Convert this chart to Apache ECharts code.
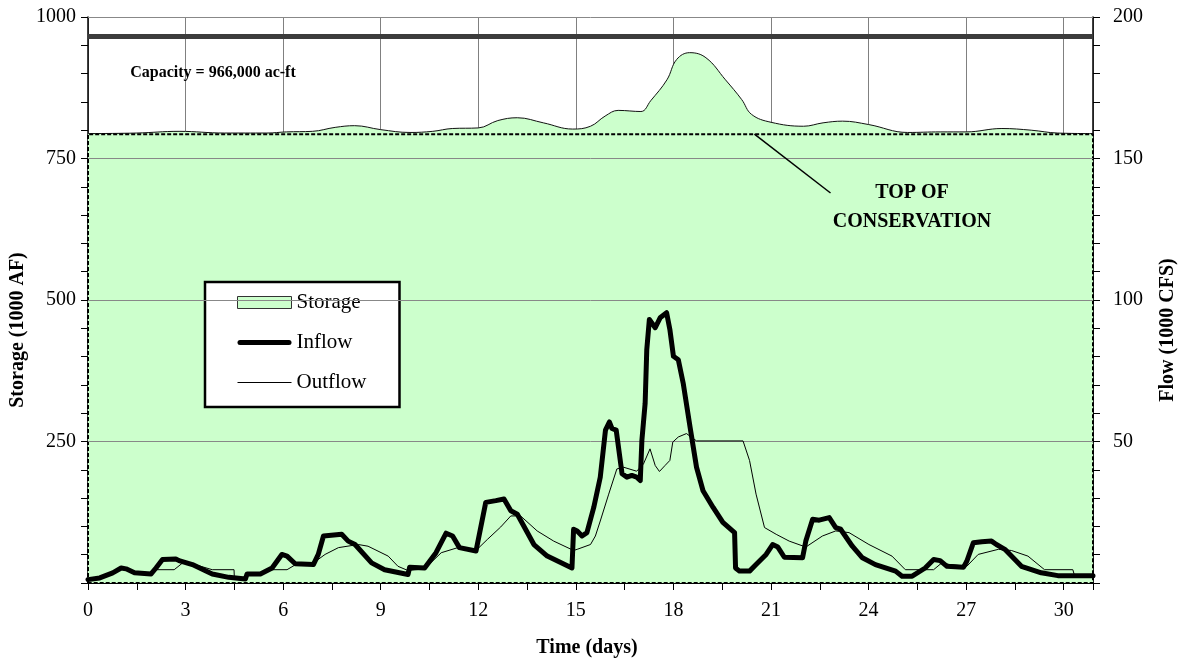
<!DOCTYPE html>
<html>
<head>
<meta charset="utf-8">
<script src="https://cdn.jsdelivr.net/npm/echarts@6/dist/echarts.min.js"></script>
<style>
html,body{margin:0;padding:0;background:#fff;}
#chart{width:1186px;height:666px;}
</style>
</head>
<body>
<div id="chart"></div>
<script>
// ---- data (days, values) ----
const X_MAX = 30.9;
const CAPACITY = 966;            // 1000 AF
const TOP_OF_CONSERVATION = 793; // 1000 AF
const storageTicks = [0, 250, 500, 750, 1000];
const flowTicks = [0, 50, 100, 150, 200];
const dayTicks = [0, 3, 6, 9, 12, 15, 18, 21, 24, 27, 30];

const storage = [
  [0,794],[1.5,795],[2.8,798],[4.2,795],[5.5,795],[6.1,797],[6.9,798],[7.6,805],[8.2,808],
  [9.0,801],[9.9,796],[10.6,798],[11.2,803],[12.0,804],[12.6,817],[13.2,822],[14.0,813],
  [14.9,802],[15.45,807],[15.9,825],[16.3,835],[17.0,833],[17.3,852],[17.8,889],[18.1,925],
  [18.5,937],[19.0,928],[19.6,889],[20.1,854],[20.4,828],[21.0,814],[22.0,807],[22.6,813],
  [23.2,816],[24.0,810],[25.2,796],[26.2,797],[27.0,797],[28.1,803],[29.0,800],[29.8,795],[30.9,794]
];

const inflow = [
  [0,1.2],[0.36,1.8],[0.76,3.6],[1.02,5.3],[1.17,5.0],[1.43,3.6],[1.94,3.2],[2.09,5.3],[2.29,8.3],
  [2.70,8.5],[2.80,7.9],[3.21,6.5],[3.82,3.2],[4.33,2.0],[4.84,1.4],[4.89,3.2],[5.30,3.2],[5.66,5.3],
  [5.96,10.1],[6.12,9.5],[6.37,6.8],[6.93,6.5],[7.08,10.1],[7.24,16.6],[7.80,17.2],[8.0,14.8],
  [8.21,13.6],[8.72,7.1],[9.12,4.7],[9.84,3.0],[9.89,5.6],[10.35,5.3],[10.70,10.7],[11.01,17.6],
  [11.21,16.6],[11.42,12.5],[11.93,11.3],[12.23,28.5],[12.54,29.1],[12.79,29.7],[13.0,25.5],
  [13.2,24.3],[13.71,13.6],[14.12,9.5],[14.88,5.3],[14.93,19.0],[15.04,18.4],[15.19,16.6],
  [15.34,17.8],[15.40,18.4],[15.55,26.7],[15.75,37.4],[15.91,54.0],[16.03,56.9],[16.11,54.6],
  [16.24,54.0],[16.42,38.6],[16.57,37.4],[16.72,38.0],[16.87,37.4],[16.98,36.2],[17.03,50.4],
  [17.13,63.5],[17.18,82.4],[17.26,93.1],[17.44,90.2],[17.59,93.7],[17.79,95.5],[17.89,89.6],
  [18.0,80.1],[18.15,78.9],[18.30,70.6],[18.51,55.2],[18.71,40.9],[18.91,32.6],[19.22,26.7],
  [19.52,21.4],[19.88,17.8],[19.91,5.3],[20.03,4.2],[20.34,4.2],[20.54,6.5],[20.85,10.1],
  [21.05,13.6],[21.21,12.7],[21.41,9.1],[21.97,8.9],[22.07,14.8],[22.28,22.5],[22.48,22.2],
  [22.79,23.1],[22.99,19.6],[23.14,19.0],[23.50,13.0],[23.81,8.9],[24.21,6.5],[24.83,4.2],
  [25.03,2.4],[25.34,2.4],[25.74,5.3],[26.0,8.3],[26.2,7.9],[26.41,5.9],[26.92,5.6],[27.02,7.7],
  [27.22,14.2],[27.48,14.6],[27.78,14.8],[27.93,13.6],[28.19,11.9],[28.70,5.9],[29.31,3.6],
  [29.82,2.6],[30.33,2.6],[30.9,2.6]
];

const outflow = [
  [0,0.8],[0.76,3.0],[1.02,5.0],[1.43,3.6],[1.94,3.2],[2.04,4.7],[2.65,4.7],[2.91,7.1],[3.11,7.1],
  [3.82,4.7],[4.49,4.7],[4.50,1.8],[4.84,1.4],[4.89,3.2],[5.30,3.2],[5.56,4.7],[6.12,4.7],[6.47,7.1],
  [6.93,7.1],[7.29,10.1],[7.70,12.5],[8.31,13.6],[8.61,13.0],[9.23,9.5],[9.53,5.9],[9.84,4.4],
  [10.35,5.0],[10.86,10.7],[11.37,12.5],[11.93,11.5],[12.28,15.4],[12.69,19.8],[13.0,23.7],
  [13.30,23.7],[13.81,18.4],[14.32,14.8],[14.93,11.5],[15.04,11.9],[15.45,13.6],[15.60,16.6],
  [15.75,21.9],[16.01,31.4],[16.26,40.3],[16.47,40.9],[16.87,39.5],[17.08,42.1],[17.28,47.4],
  [17.44,41.5],[17.57,39.4],[17.74,41.5],[17.89,43.3],[17.98,49.8],[18.15,51.6],[18.40,52.8],
  [18.71,50.2],[20.14,50.2],[20.34,43.3],[20.54,31.4],[20.80,19.6],[21.16,17.2],[21.56,14.8],
  [22.07,12.7],[22.58,16.6],[22.99,18.4],[23.40,17.8],[24.01,13.6],[24.72,9.5],[25.13,4.7],
  [26.0,4.7],[26.25,7.1],[26.51,6.5],[27.02,5.9],[27.37,10.1],[27.99,11.9],[28.39,11.5],
  [28.90,9.5],[29.41,4.7],[30.28,4.7],[30.33,2.7],[30.9,2.6]
];

// annotation anchor (days, 1000 AF)
const leaderFrom = [20.49, TOP_OF_CONSERVATION];
const leaderTo = [22.83, 689];

// ---- build ----
const FONT = "'Liberation Serif', 'Times New Roman', serif";
const conservationBox = [[0,0],[0,TOP_OF_CONSERVATION],[X_MAX,TOP_OF_CONSERVATION],[X_MAX,0],[0,0]];
const gridLevels = storageTicks.filter(v => v > 0);

const chart = echarts.init(document.getElementById('chart'));
const axisTxt = {fontSize: 20, fontFamily: FONT, color: '#000'};
const tickLine = {color: '#000', width: 1};

chart.setOption({
  animation: false,
  backgroundColor: '#fff',
  grid: {left: 88, right: 93, top: 17, bottom: 83, containLabel: false},
  xAxis: {
    type: 'value', min: 0, max: X_MAX, interval: 3,
    axisLine: {show: true, onZero: false, lineStyle: {color: '#000', width: 1}},
    axisTick: {show: true, inside: false, length: 7, lineStyle: tickLine},
    minorTick: {show: true, splitNumber: 2, length: 7, lineStyle: tickLine},
    splitLine: {show: true, lineStyle: {color: '#808080', width: 1}},
    axisLabel: Object.assign({margin: 18, showMaxLabel: false,
      formatter: v => dayTicks.indexOf(v) >= 0 ? String(v) : ''}, axisTxt)
  },
  yAxis: [
    {
      type: 'value', min: 0, max: 1000, interval: 250, position: 'left',
      axisLine: {show: true, lineStyle: {color: '#000', width: 1.5}},
      axisTick: {show: true, inside: false, length: 7, lineStyle: tickLine},
      minorTick: {show: true, splitNumber: 5, length: 7, lineStyle: tickLine},
      splitLine: {show: false},
      axisLabel: Object.assign({margin: 12, showMinLabel: false,
        formatter: v => storageTicks.indexOf(v) >= 0 ? String(v) : ''}, axisTxt)
    },
    {
      type: 'value', min: 0, max: 200, interval: 50, position: 'right',
      axisLine: {show: true, lineStyle: {color: '#000', width: 1.5}},
      axisTick: {show: true, inside: false, length: 7, lineStyle: tickLine},
      minorTick: {show: true, splitNumber: 5, length: 7, lineStyle: tickLine},
      splitLine: {show: false},
      axisLabel: Object.assign({margin: 20, showMinLabel: false,
        formatter: v => flowTicks.indexOf(v) >= 0 ? String(v) : ''}, axisTxt)
    }
  ],
  legend: {
    orient: 'vertical', left: 205, top: 282,
    padding: [10, 33, 14, 32], itemGap: 19,
    itemWidth: 54, itemHeight: 12,
    symbolKeepAspect: true,
    backgroundColor: '#fff', borderColor: '#000', borderWidth: 2.5,
    textStyle: {fontSize: 21, fontFamily: FONT, color: '#000'},
    selectedMode: false,
    data: [
      {name: 'Storage', icon: 'rect', itemStyle: {color: '#CCFFCC', borderColor: '#333', borderWidth: 1}},
      {name: 'Inflow', icon: 'path://M2.5,0 H51.5 A2.5,2.5 0 0 1 51.5,5 H2.5 A2.5,2.5 0 0 1 2.5,0 Z',
        itemStyle: {color: '#000', borderWidth: 0}},
      {name: 'Outflow', icon: 'path://M0,0 H54 V1 H0 Z',
        itemStyle: {color: '#000', borderWidth: 0}}
    ]
  },
  series: [
    {
      name: 'Storage', type: 'line', yAxisIndex: 0, z: 2,
      data: storage, smooth: 0.4, symbol: 'none', silent: true,
      lineStyle: {color: '#111', width: 1},
      itemStyle: {color: '#CCFFCC'},
      areaStyle: {color: '#CCFFCC', opacity: 1}
    },
    {
      name: 'Conservation', type: 'line', yAxisIndex: 0, z: 3,
      data: conservationBox, symbol: 'none', silent: true,
      lineStyle: {color: '#000', width: 2, type: [4, 2]},
      markLine: {
        silent: true, symbol: 'none', animation: false,
        label: {show: false},
        data: gridLevels.map(v => ({yAxis: v, lineStyle: {color: '#888', width: 1, type: 'solid'}}))
          .concat([
            {yAxis: CAPACITY, lineStyle: {color: '#3c3c3c', width: 5, type: 'solid'}},
            [{coord: leaderFrom, lineStyle: {color: '#000', width: 1.5, type: 'solid'}}, {coord: leaderTo}]
          ])
      }
    },
    {
      name: 'Outflow', type: 'line', yAxisIndex: 1, z: 5,
      data: outflow, symbol: 'none', silent: true,
      lineStyle: {color: '#000', width: 1},
      itemStyle: {color: '#000'}
    },
    {
      name: 'Inflow', type: 'line', yAxisIndex: 1, z: 6,
      data: inflow, symbol: 'none', silent: true,
      lineStyle: {color: '#000', width: 5, join: 'round', cap: 'round'},
      itemStyle: {color: '#000'}
    }
  ],
  graphic: [
    {type: 'text', x: 18, y: 330, rotation: Math.PI / 2, z: 100,
      style: {text: 'Storage (1000 AF)', font: 'bold 20px ' + FONT, fill: '#000', align: 'center', verticalAlign: 'middle'}},
    {type: 'text', x: 1168, y: 330, rotation: Math.PI / 2, z: 100,
      style: {text: 'Flow (1000 CFS)', font: 'bold 20px ' + FONT, fill: '#000', align: 'center', verticalAlign: 'middle'}},
    {type: 'text', x: 587, y: 648, z: 100,
      style: {text: 'Time (days)', font: 'bold 20px ' + FONT, fill: '#000', align: 'center', verticalAlign: 'middle'}},
    {type: 'text', x: 213, y: 73, z: 100,
      style: {text: 'Capacity = 966,000 ac-ft', font: 'bold 16px ' + FONT, fill: '#000', align: 'center', verticalAlign: 'middle'}},
    {type: 'text', x: 912, y: 193, z: 100,
      style: {text: 'TOP OF', font: 'bold 20px ' + FONT, fill: '#000', align: 'center', verticalAlign: 'middle'}},
    {type: 'text', x: 912, y: 222, z: 100,
      style: {text: 'CONSERVATION', font: 'bold 20px ' + FONT, fill: '#000', align: 'center', verticalAlign: 'middle'}}
  ]
});
</script>
</body>
</html>
